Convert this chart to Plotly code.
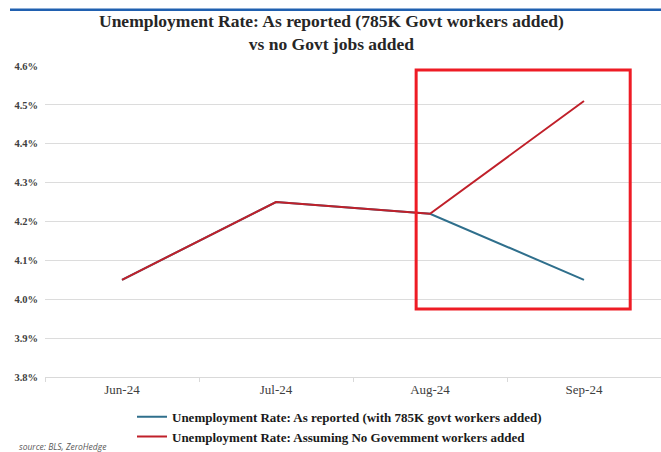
import plotly.graph_objects as go

months = ["Jun-24", "Jul-24", "Aug-24", "Sep-24"]
reported = [4.05, 4.25, 4.22, 4.05]
no_govt = [4.05, 4.25, 4.22, 4.51]
y_ticks = [3.8, 3.9, 4.0, 4.1, 4.2, 4.3, 4.4, 4.5, 4.6]
y_tick_labels = [f"{v:.1f}%" for v in y_ticks]

title_text = "Unemployment Rate: As reported (785K Govt workers added)<br>vs no Govt jobs added"
name_reported = "Unemployment Rate: As reported (with 785K govt workers added)"
name_no_govt = "Unemployment Rate: Assuming No Govemment workers added"

serif = "Liberation Serif, Times New Roman, serif"

fig = go.Figure()
fig.add_trace(go.Scatter(x=months, y=reported, mode="lines", name=name_reported,
                         line=dict(color="#2f6f8c", width=2)))
fig.add_trace(go.Scatter(x=months, y=no_govt, mode="lines", name=name_no_govt,
                         line=dict(color="#c0202a", width=2)))

fig.update_layout(
    width=661, height=452,
    margin=dict(l=45, r=0, t=66, b=71),
    paper_bgcolor="white", plot_bgcolor="white",
    xaxis=dict(type="category", range=[-0.5, 3.5], showgrid=False,
               showline=True, linecolor="#d9d9d9", linewidth=1,
               ticks="outside", tickson="boundaries", ticklen=4, tickcolor="#d9d9d9",
               tickfont=dict(family=serif, size=13, color="#404040"),
               zeroline=False, fixedrange=True),
    yaxis=dict(range=[3.8, 4.6], tickvals=y_ticks, ticktext=y_tick_labels,
               showgrid=True, gridcolor="#dcdcdc", gridwidth=1, zeroline=False,
               ticks="", ticklabelstandoff=6,
               tickfont=dict(family=serif, size=10.5, color="#404040", weight="bold")),
    showlegend=True,
    legend=dict(x=(132 - 45) / 616, xanchor="left", y=(381 - 406) / 315, yanchor="top",
                orientation="v", bgcolor="rgba(0,0,0,0)", tracegroupgap=0,
                font=dict(family=serif, size=13, color="#1a1a1a", weight="bold")),
)

# title
fig.add_annotation(text=title_text, xref="paper", yref="paper",
                   x=(331 - 45) / 616, y=(381 - 8) / 315, xanchor="center", yanchor="top",
                   showarrow=False, align="center",
                   font=dict(family=serif, size=17.5, color="#262626", weight="bold"))

# red highlight box
fig.add_shape(type="rect", xref="x", yref="y", x0=1.91, x1=3.30, y0=3.975, y1=4.59,
              line=dict(color="#ee1c25", width=3), fillcolor="rgba(0,0,0,0)")
# blue top rule
fig.add_shape(type="line", xref="paper", yref="paper",
              x0=(10 - 45) / 616, x1=1.0, y0=(381 - 9) / 315, y1=(381 - 9) / 315,
              line=dict(color="#2060b0", width=2.5))

fig.add_annotation(text="source: BLS, ZeroHedge", xref="paper", yref="paper",
                   x=(17 - 45) / 616, y=(381 - 451) / 315, xanchor="left", yanchor="middle",
                   showarrow=False,
                   font=dict(family="Open Sans, sans-serif", size=8.5, color="#595959", style="italic"))

fig.write_html("out.html")
